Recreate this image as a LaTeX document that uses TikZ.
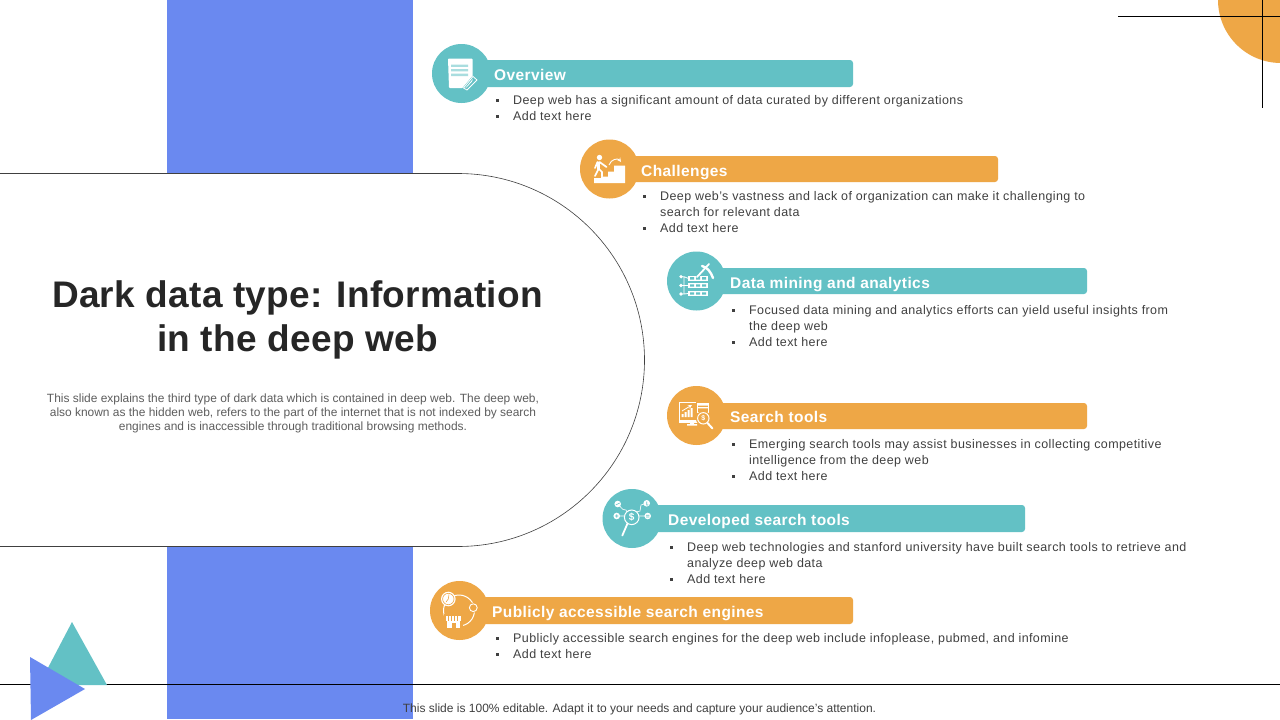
\documentclass[tikz,border=0pt]{standalone}
\usepackage{fontspec}
\setmainfont{Liberation Sans}
\definecolor{tealc}{HTML}{63C1C5}
\definecolor{orangec}{HTML}{EEA746}
\definecolor{bluec}{HTML}{6A89F0}
\definecolor{inkc}{HTML}{404040}
\newcommand{\blt}{\leavevmode\llap{\rule[3pt]{3.2pt}{3.2pt}\hspace{14.3pt}}}
\tikzset{
 disc/.style={circle,minimum size=59pt,inner sep=0pt},
 bar/.style={rounded corners=3pt},
 head/.style={anchor=base west,inner sep=0pt,text=white,font=\fontsize{15.5}{16}\selectfont\bfseries\addfontfeature{LetterSpace=2.6}},
 body/.style={anchor=north west,inner sep=0pt,align=left,text=inkc,font=\fontsize{12.5}{16}\selectfont\addfontfeature{LetterSpace=3.2}},
}
\begin{document}
\begin{tikzpicture}[x=1pt,y=-1pt]
\useasboundingbox (0,0) rectangle (1280,720);
\fill[white] (0,0) rectangle (1280,720);
\fill[bluec] (167,0) rectangle (413,719);
\draw[black,line width=.8pt] (0,684.5) -- (1280,684.5);
\fill[tealc] (72,622) -- (107,685) -- (39,685) -- cycle;
\fill[bluec] (30,657) -- (85,689) -- (31,720) -- cycle;
\fill[orangec] (1218,0) arc[start angle=180,end angle=90,radius=63] -- (1281,0) -- cycle;
\draw[black,line width=.8pt] (1118,16.5) -- (1280,16.5);
\draw[black,line width=.8pt] (1262.5,0) -- (1262.5,108);
\draw[fill=white,draw=black!75,line width=.6pt] (0,173.5) -- (458,173.5) arc[start angle=-90,end angle=90,radius=186.5] -- (0,546.5);
\node[anchor=center,inner sep=0pt,align=center,text=black!85,font=\fontsize{37}{44}\selectfont\bfseries\addfontfeature{LetterSpace=.7}] (title) at (297.5,320) {Dark data type: Information\\in the deep web};
\node[anchor=center,inner sep=0pt,align=center,text=inkc!85,font=\fontsize{11.95}{14}\selectfont] (desc) at (293,413.5) {This slide explains the third type of dark data which is contained in deep web. The deep web,\\also known as the hidden web, refers to the part of the internet that is not indexed by search\\engines and is inaccessible through traditional browsing methods.};
\node[anchor=center,inner sep=0pt,text=inkc,font=\fontsize{12}{14}\selectfont] (foot) at (639.5,709) {This slide is 100\% editable. Adapt it to your needs and capture your audience's attention.};
% items
\fill[tealc,bar] (480,60) rectangle (853,87);
\node[disc,fill=tealc] (d1) at (461.5,73.5) {};
\node[head] (h1) at (494,80) {Overview};
\node[body] (b1) at (513,95.5) {\blt Deep web has a significant amount of data curated by different organizations\\\blt Add text here};
\fill[orangec,bar] (625,156) rectangle (998,182);
\node[disc,fill=orangec] (d2) at (609.5,169) {};
\node[head] (h2) at (641,176) {Challenges};
\node[body] (b2) at (660,191.5) {\blt Deep web's vastness and lack of organization can make it challenging to\\search for relevant data\\\blt Add text here};
\fill[tealc,bar] (715,268) rectangle (1087,294);
\node[disc,fill=tealc] (d3) at (696.5,281) {};
\node[head] (h3) at (730,288) {Data mining and analytics};
\node[body] (b3) at (749,305.5) {\blt Focused data mining and analytics efforts can yield useful insights from\\the deep web\\\blt Add text here};
\fill[orangec,bar] (715,403) rectangle (1087,429);
\node[disc,fill=orangec] (d4) at (696.5,415.5) {};
\node[head] (h4) at (730,422) {Search tools};
\node[body] (b4) at (749,439.5) {\blt Emerging search tools may assist businesses in collecting competitive\\intelligence from the deep web\\\blt Add text here};
\fill[tealc,bar] (652,505) rectangle (1025,532);
\node[disc,fill=tealc] (d5) at (632,518.5) {};
\node[head] (h5) at (668,525) {Developed search tools};
\node[body] (b5) at (687,542.5) {\blt Deep web technologies and stanford university have built search tools to retrieve and\\analyze deep web data\\\blt Add text here};
\fill[orangec,bar] (478,597) rectangle (853,624);
\node[disc,fill=orangec] (d6) at (459.5,610.5) {};
\node[head] (h6) at (492,617) {Publicly accessible search engines};
\node[body] (b6) at (513,633.5) {\blt Publicly accessible search engines for the deep web include infoplease, pubmed, and infomine\\\blt Add text here};
% icon 1: document and pen
\fill[white,rounded corners=.8pt] (448,58.5) -- (472.5,58.5) -- (472.5,81) -- (466,88) -- (449,88) -- cycle;
\fill[tealc!55] (451,64.5) rectangle (468,66.8) (451,69) rectangle (468,71.3) (451,73.7) rectangle (468,76);
\draw[tealc,line width=2pt,line join=round] (463,89) -- (473,77) -- (478,81) -- (468,92) -- cycle;
\draw[white,line width=.8pt,line join=round] (463.5,88) -- (473,76.5) -- (477,80) -- (467,90) -- cycle;
% icon 2: climber and stairs
\fill[white] (594,183) -- (594,178) -- (601,178) -- (601,176.5) -- (608,176.5) -- (608,171.5) -- (614,171.5) -- (614,165.5) -- (625,165.5) -- (625,183) -- cycle;
\fill[white] (599.5,157.5) circle (2.7);
\draw[white,line width=3pt,line cap=round,line join=round] (598.5,163) -- (598.5,169);
\draw[white,line width=1.7pt,line cap=round,line join=round] (598.5,169) -- (595,176) (599,169) -- (602,172) -- (602,176.5) (597.5,162) -- (595,168) (599.5,162) -- (606.5,167);
\draw[white,line width=.9pt,-stealth] (609,165) .. controls (611,159) and (618,158) .. (621,162);
% icon 3: server and pick
\foreach \yy in {278.3,285.5,293.5}{
 \fill[white] (688,\yy-2.7) rectangle (708,\yy+2.7);
 \fill[tealc] (690,\yy-1.2) rectangle (694,\yy+1.2) (696,\yy-1.2) rectangle (700,\yy+1.2) (702,\yy-1.2) rectangle (706,\yy+1.2);}
\fill[white] (681,276.7) circle (1.8) (681,285.5) circle (1.8) (681,294) circle (1.8);
\draw[white,line width=.8pt] (681,276.7) -- (684,276.7) -- (684,294) -- (681,294) (681,285.5) -- (688,285.5) (684,276.7) -- (688,278.3) (684,294) -- (688,293.5);
\draw[tealc,line width=3.6pt] (697,277) -- (709,264);
\draw[white,line width=1.8pt,line cap=round] (697,277) -- (709,264);
\draw[white,line width=2.4pt,line cap=round] (702,266) .. controls (707,267) and (711,272) .. (713,278);
% icon 4: monitor and magnifier
\draw[white,line width=1pt] (679.5,402.5) rectangle (701,420);
\fill[white] (679,420) rectangle (701,422.5);
\fill[white] (690,422) rectangle (694,424) (687,424) rectangle (697,425.5);
\fill[white] (681.5,417) rectangle (683.5,414) (684.5,417) rectangle (686.5,412) (687.5,417) rectangle (689.5,410) (690.5,417) rectangle (692.5,408);
\draw[white,line width=.8pt,-stealth] (682,411) -- (692,405);
\fill[orangec] (696,401) rectangle (709,413);
\draw[white,line width=.8pt] (697,403) rectangle (708,412);
\fill[white] (697,403) rectangle (708,405.5) (697,407) rectangle (708,408.3);
\fill[orangec] (703.3,418.3) circle (7.5);
\draw[white,line width=1pt] (703.3,418.3) circle (5.7);
\draw[white,line width=2pt,line cap=round] (707.5,423) -- (712.5,428.5);
\node[inner sep=0pt,text=white,font=\fontsize{7}{7}\selectfont\bfseries] (ds4) at (703.3,418.3) {\$};
% icon 5: dollar magnifier network
\draw[white,line width=1pt] (631.7,517.3) circle (7.3);
\node[inner sep=0pt,text=white,font=\fontsize{10}{10}\selectfont\bfseries] (ds5) at (631.7,517.3) {\$};
\draw[white,line width=1.8pt,line cap=round] (627.5,523.5) -- (622.3,535.5);
\draw[white,line width=.6pt] (617.7,504) -- (623,509.5) -- (626,510) -- (627,512) (646.7,503.3) -- (641,505) -- (640,511) -- (636,512) (616.7,516) -- (624,516) (647.7,516) -- (639,516);
\fill[white] (617.7,504) circle (3.3) (646.7,503.3) circle (3.3) (616.7,516) circle (3.3) (647.7,516) circle (3.3);
\draw[tealc,line width=.6pt] (615.7,505) -- (619.7,503) (646.7,501.5) -- (646.7,505) -- (648.3,505) (615,516) -- (618.4,516) (616.7,514.3) -- (616.7,517.7) (646,515.2) -- (649.4,515.2) (646,517) -- (649.4,517);
% icon 6: store, clock, pin
\draw[white,line width=1pt] (459,610.5) circle (15.5);
\fill[orangec] (446,622) rectangle (460,630);
\fill[white] (448.3,599) circle (7.3);
\draw[orangec,line width=.6pt] (448.3,599) circle (5.7);
\draw[orangec,line width=.6pt] (449,594.5) -- (448.3,599) -- (446,602);
\fill[orangec] (473.3,607.7) circle (5.2);
\draw[white,line width=.9pt] (473.3,607.7) circle (3.9);
\fill[orangec] (444,613.5) rectangle (463,629);
\fill[white] (445.7,615.5) rectangle (461,621);
\draw[orangec,line width=.6pt] (448.5,615.5) -- (448.5,621) (451.5,615.5) -- (451.5,621) (454.5,615.5) -- (454.5,621) (457.5,615.5) -- (457.5,621);
\fill[white] (447,621) rectangle (460,628.3);
\fill[orangec] (451.5,623) rectangle (456,628.3);
\end{tikzpicture}
\end{document}
